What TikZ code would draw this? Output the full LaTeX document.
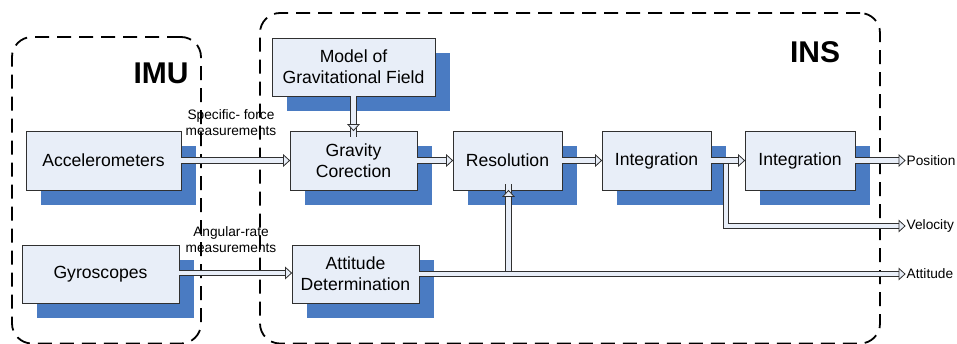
\documentclass[tikz,border=0pt]{standalone}
\usepackage{fontspec}
\setmainfont{Liberation Sans}
\usetikzlibrary{shadows}
\definecolor{boxfill}{HTML}{E8EEF8}
\definecolor{shadowblue}{HTML}{4A7BC2}
\definecolor{arrowfill}{HTML}{E8EEF8}
\definecolor{edgecol}{HTML}{303030}
\begin{document}
\begin{tikzpicture}[x=1pt,y=-1pt,
  block/.style={draw=edgecol, line width=0.9pt, fill=boxfill, inner sep=0pt, align=center,
    font=\fontsize{17.6}{21}\selectfont,
    general shadow={fill=shadowblue, shadow xshift=15pt, shadow yshift=-15pt}},
  shaft/.style={draw=edgecol, line width=0.8pt, double=arrowfill, double distance=4.6pt, line join=miter},
  head/.style={draw=edgecol, line width=0.8pt, fill=arrowfill, line join=miter},
  groupbox/.style={draw=black, line width=1.8pt, rounded corners=20pt, dash pattern=on 14pt off 8pt, inner sep=0pt},
  small/.style={font=\fontsize{13.7}{16}\selectfont, align=center, inner sep=0pt},
  outlbl/.style={font=\fontsize{13.7}{16}\selectfont, anchor=west, inner sep=1.5pt},
  title/.style={font=\fontsize{30}{30}\selectfont\bfseries, anchor=base, inner sep=0pt}
]
\useasboundingbox (0,0) rectangle (957,343);

% group frames
\node[groupbox, minimum width=189pt, minimum height=306.5pt] (imu) at (106.5,190.25) {};
\node[groupbox, minimum width=620pt, minimum height=330.5pt] (ins) at (570,178.25) {};
\node[title] (imulbl) at (161,83) {IMU};
\node[title] (inslbl) at (815,62) {INS};

% blocks
\node[block, minimum width=163pt, minimum height=58pt] (model) at (353.5,67) {Model of\\Gravitational Field};
\node[block, minimum width=155pt, minimum height=59pt] (acc) at (103.5,160.5) {Accelerometers};
\node[block, minimum width=127pt, minimum height=59pt] (grav) at (353.5,160.5) {Gravity\\Corection};
\node[block, minimum width=109pt, minimum height=59pt] (res) at (507.5,160.5) {Resolution};
\node[block, minimum width=109pt, minimum height=59pt] (int1) at (656.5,160.5) {Integration};
\node[block, minimum width=110pt, minimum height=59pt] (int2) at (800,160.5) {Integration};
\node[block, minimum width=157pt, minimum height=58pt] (gyro) at (100.5,274) {Gyroscopes};
\node[block, minimum width=127pt, minimum height=58pt] (att) at (355.5,274) {Attitude\\Determination};

% free ends
\coordinate (posend) at (905,160.5);
\coordinate (velend) at (905,226);
\coordinate (attend) at (905,274);
\coordinate (velcorner) at (726,226);
\coordinate (velstart) at (726,160.5);
\coordinate (attbranch) at (508.5,274);

% labels
\node[small] (sflbl) at (231,122.5) {Specific- force\\measurements};
\node[small] (arlbl) at (231,240) {Angular-rate\\measurements};
\node[outlbl] (poslbl) at (posend) {Position};
\node[outlbl] (vellbl) at (velend) {Velocity};
\node[outlbl] (attlbl) at (attend) {Attitude};

% branches first (overdrawn by main shafts)
\draw[shaft] (velstart) -- (velcorner) -- ([xshift=-6pt]velend);
\draw[head] (velend) -- ++(-6,-5.5) -- ++(0,11) -- cycle;
\draw[shaft] (attbranch) -- ([yshift=6pt]res.south -| attbranch);
\draw[head] (res.south -| attbranch) -- ++(-5.5,6) -- ++(11,0) -- cycle;

% main arrows
\draw[shaft] (model.south) -- ([yshift=-6pt]grav.north);
\draw[head] (grav.north) -- ++(-5.5,-6) -- ++(11,0) -- cycle;

\draw[shaft] (acc.east) -- ([xshift=-6pt]grav.west);
\draw[head] (grav.west) -- ++(-6,-5.5) -- ++(0,11) -- cycle;

\draw[shaft] (grav.east) -- ([xshift=-6pt]res.west);
\draw[head] (res.west) -- ++(-6,-5.5) -- ++(0,11) -- cycle;

\draw[shaft] (res.east) -- ([xshift=-6pt]int1.west);
\draw[head] (int1.west) -- ++(-6,-5.5) -- ++(0,11) -- cycle;

\draw[shaft] (int1.east) -- ([xshift=-6pt]int2.west);
\draw[head] (int2.west) -- ++(-6,-5.5) -- ++(0,11) -- cycle;

\draw[shaft] (int2.east) -- ([xshift=-6pt]posend);
\draw[head] (posend) -- ++(-6,-5.5) -- ++(0,11) -- cycle;

\draw[shaft] ([yshift=1pt]gyro.east) -- ([xshift=-6pt,yshift=1pt]att.west);
\draw[head] ([yshift=1pt]att.west) -- ++(-6,-5.5) -- ++(0,11) -- cycle;

\draw[shaft] (att.east) -- ([xshift=-6pt]attend);
\draw[head] (attend) -- ++(-6,-5.5) -- ++(0,11) -- cycle;
\end{tikzpicture}
\end{document}
